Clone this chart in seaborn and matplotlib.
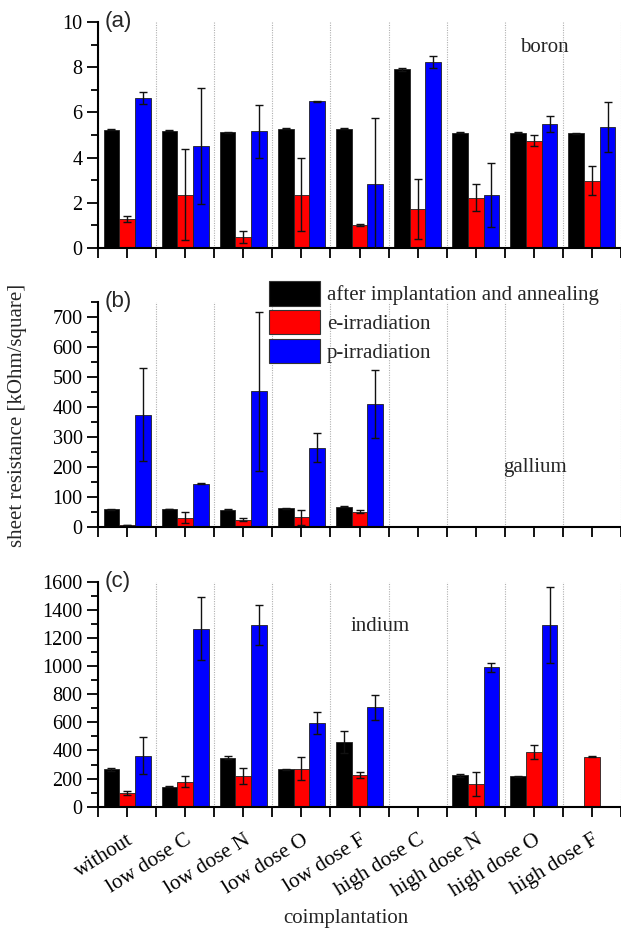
import numpy as np
import pandas as pd
import matplotlib
matplotlib.use("Agg")
import matplotlib.pyplot as plt
from matplotlib.patches import Patch
from matplotlib.ticker import MultipleLocator, FixedLocator
import seaborn as sns

# ---------------- data ----------------
categories = ["without", "low dose C", "low dose N", "low dose O", "low dose F",
              "high dose C", "high dose N", "high dose O", "high dose F"]
treatments = ["after implantation and annealing", "e-irradiation", "p-irradiation"]
nan = np.nan

# (a) boron
boron_anneal = [5.24, 5.18, 5.13, 5.27, 5.27, 7.90, 5.10, 5.10, 5.07]
boron_anneal_err = [0.02, 0.02, 0.02, 0.02, 0.02, 0.06, 0.02, 0.02, 0.02]
boron_e = [1.30, 2.36, 0.50, 2.36, 1.03, 1.73, 2.23, 4.75, 2.98]
boron_e_err = [0.13, 2.00, 0.27, 1.62, 0.05, 1.34, 0.60, 0.25, 0.65]
boron_p = [6.65, 4.53, 5.16, 6.50, 2.85, 8.23, 2.33, 5.47, 5.34]
boron_p_err = [0.27, 2.57, 1.17, 0.02, 2.90, 0.25, 1.42, 0.35, 1.10]

# (b) gallium
gallium_anneal = [58, 59, 57, 61, 67, nan, nan, nan, nan]
gallium_anneal_err = [1, 1, 1, 1, 1, nan, nan, nan, nan]
gallium_e = [5.5, 30, 24, 31, 50, nan, nan, nan, nan]
gallium_e_err = [1, 18, 5, 26, 5, nan, nan, nan, nan]
gallium_p = [374, 144, 451, 264, 409, nan, nan, nan, nan]
gallium_p_err = [154, 3, 264, 48, 114, nan, nan, nan, nan]

# (c) indium
indium_anneal = [265, 142, 348, 265, 462, nan, 223, 216, nan]
indium_anneal_err = [10, 2, 10, 2, 78, nan, 13, 2, nan]
indium_e = [100, 178, 216, 270, 228, nan, 161, 386, 356]
indium_e_err = [15, 38, 56, 80, 21, nan, 84, 50, 3]
indium_p = [363, 1266, 1292, 597, 706, nan, 991, 1294, nan]
indium_p_err = [130, 225, 145, 78, 89, nan, 32, 270, nan]

panels = [
    ("(a)", "boron", [boron_anneal, boron_e, boron_p],
     [boron_anneal_err, boron_e_err, boron_p_err], (0, 10), 2, 1, (0.853, 0.885)),
    ("(b)", "gallium", [gallium_anneal, gallium_e, gallium_p],
     [gallium_anneal_err, gallium_e_err, gallium_p_err], (0, 750), 100, 50, (0.836, 0.261)),
    ("(c)", "indium", [indium_anneal, indium_e, indium_p],
     [indium_anneal_err, indium_e_err, indium_p_err], (0, 1600), 200, 100, (0.539, 0.799)),
]

colors = ["#000000", "#ff0000", "#0000ff"]

# ---------------- style ----------------
sns.set_theme(style="ticks")
SERIF = ["Liberation Serif", "DejaVu Serif"]
plt.rcParams["font.family"] = SERIF
plt.rcParams["axes.linewidth"] = 1.5
for k in ["xtick.major.width", "ytick.major.width", "xtick.minor.width", "ytick.minor.width"]:
    plt.rcParams[k] = 1.3
plt.rcParams["axes.edgecolor"] = "black"
plt.rcParams["xtick.color"] = "black"
plt.rcParams["ytick.color"] = "black"

W, H = 621, 931
fig = plt.figure(figsize=(W / 100, H / 100), dpi=100)

left = 98 / W
width = 1.0 - left
axes_px = [(22, 248), (301.7, 526.7), (581.7, 806.7)]

axes = []
for (lab, name, vals, errs, ylim, major, minor, txtpos), (top, bot) in zip(panels, axes_px):
    ax = fig.add_axes([left, 1 - bot / H, width, (bot - top) / H])
    axes.append(ax)
    rows = []
    for t, v in zip(treatments, vals):
        for c, y in zip(categories, v):
            rows.append({"coimplantation": c, "treatment": t, "value": y})
    df = pd.DataFrame(rows)
    sns.barplot(data=df, x="coimplantation", y="value", hue="treatment",
                order=categories, hue_order=treatments, palette=colors,
                width=0.81, errorbar=None, edgecolor="#222222", linewidth=0.6,
                saturation=1, legend=False, ax=ax)
    bar_containers = list(ax.containers)
    # error bars at bar centres
    for t_idx, cont in enumerate(bar_containers):
        for bar in cont.patches:
            h = bar.get_height()
            if h is None or not np.isfinite(h):
                continue
            xc = bar.get_x() + bar.get_width() / 2
            ci = int(round(xc))
            e = errs[t_idx][ci]
            if not np.isfinite(e):
                continue
            ax.errorbar(xc, h, yerr=e, fmt="none", ecolor="#111111",
                        elinewidth=1.0, capsize=3.2, capthick=1.0, zorder=5)
    ax.set_xlim(-0.5, len(categories) - 0.5)
    ax.set_ylim(*ylim)
    ax.yaxis.set_major_locator(MultipleLocator(major))
    ax.yaxis.set_minor_locator(MultipleLocator(minor))
    ax.xaxis.set_minor_locator(FixedLocator(np.arange(-0.5, len(categories), 1.0)))
    ax.grid(which="minor", axis="x", linestyle=(0, (1, 1.2)), color="#b0b0b0", linewidth=0.8)
    ax.set_axisbelow(True)
    sns.despine(ax=ax, top=True, right=True)
    ax.tick_params(axis="y", which="major", length=8, labelsize=14.5, direction="out", pad=3)
    ax.tick_params(axis="y", which="minor", length=5, direction="out")
    ax.tick_params(axis="x", which="both", length=7, direction="out")
    ax.set_xlabel("")
    ax.set_ylabel("")
    ax.text(0.013, 1.0, lab, transform=ax.transAxes, ha="left", va="center",
            fontsize=16, family=["Liberation Sans", "DejaVu Sans"])
    ax.text(txtpos[0], txtpos[1], name, transform=ax.transAxes, ha="center",
            va="center", fontsize=15, family=SERIF)

for ax in axes[:-1]:
    ax.set_xticklabels([])
axes[-1].set_xticks(range(len(categories)))
axes[-1].set_xticklabels(categories, rotation=32, ha="right", va="top",
                         rotation_mode="anchor", fontsize=15.3, family=SERIF)
axes[-1].tick_params(axis="x", which="major", pad=10)
for ax in axes:
    for tl in ax.get_yticklabels():
        tl.set_family(SERIF)

handles = [Patch(facecolor=c, edgecolor="#333333", linewidth=0.8, label=t)
           for c, t in zip(colors, treatments)]
fig.legend(handles=handles, loc="upper left",
           bbox_to_anchor=(269 / W, 1 - 281.5 / H), frameon=False,
           prop={"family": SERIF, "size": 15}, handlelength=2.45, handleheight=1.4,
           handletextpad=0.33, labelspacing=0.22, borderpad=0, borderaxespad=0)

fig.text(18 / W, 1 - 415 / H, "sheet resistance [kOhm/square]", rotation=90,
         ha="center", va="center", fontsize=15, family=SERIF)
fig.text(346 / W, 1 - 918 / H, "coimplantation", ha="center", va="center",
         fontsize=15, family=SERIF)

fig.savefig("out.png", dpi=100)
